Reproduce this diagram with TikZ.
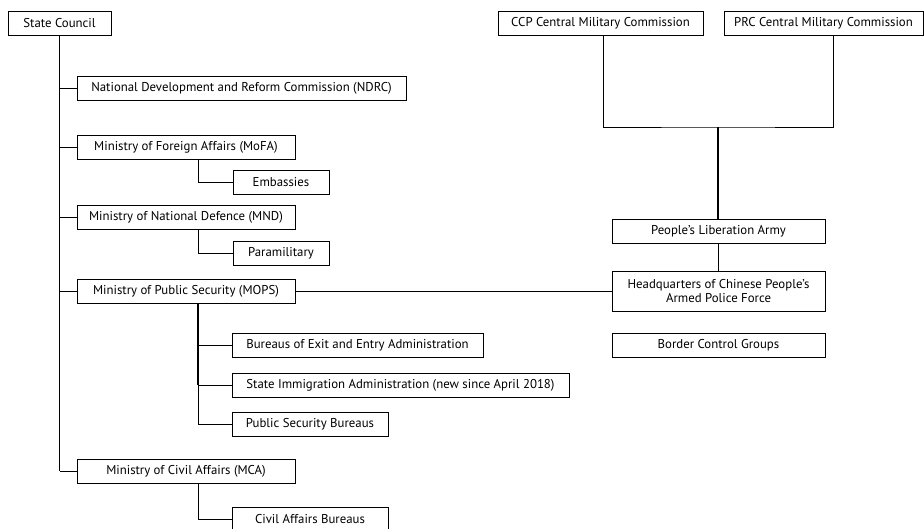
\documentclass[tikz,border=0pt]{standalone}
\usepackage{fontspec}
\setmainfont{PT Sans}
\usepackage{tikz}

\begin{document}
\begin{tikzpicture}[x=1pt,y=-1pt,
        box/.style={draw,rectangle,line width=0.8pt,minimum height=24pt,inner sep=0pt,font=\fontsize{12.8}{14}\selectfont,align=center},
        branch/.style={line width=0.6pt},
        spine/.style={line width=1.3pt}]

    \useasboundingbox (0,0) rectangle (924,528);

    % State Council side
    \node[box,minimum width=103pt] (sc) at (59.5,23) {State Council};
    \node[box,minimum width=329pt] (ndrc) at (241.5,88.5) {National Development and Reform Commission (NDRC)};
    \node[box,minimum width=218pt] (mofa) at (186,147) {Ministry of Foreign Affairs (MoFA)};
    \node[box,minimum width=96pt] (emb) at (281,182.5) {Embassies};
    \node[box,minimum width=218pt] (mnd) at (186,217) {Ministry of National Defence (MND)};
    \node[box,minimum width=96pt] (para) at (281,253.5) {Paramilitary};
    \node[box,minimum width=218pt] (mops) at (186,291) {Ministry of Public Security (MOPS)};
    \node[box,minimum width=251pt] (exit) at (357.5,345.5) {Bureaus of Exit and Entry Administration};
    \node[box,minimum width=337pt] (sia) at (400.5,385) {State Immigration Administration (new since April 2018)};
    \node[box,minimum width=156pt] (psb) at (310,424) {Public Security Bureaus};
    \node[box,minimum width=218pt] (mca) at (186,471) {Ministry of Civil Affairs (MCA)};
    \node[box,minimum width=156pt] (cab) at (310,519) {Civil Affairs Bureaus};

    % military side
    \node[box,minimum width=205pt] (ccp) at (600.5,23) {CCP Central Military Commission};
    \node[box,minimum width=199pt] (prc) at (823.5,23) {PRC Central Military Commission};
    \node[box,minimum width=213pt] (pla) at (718.5,231.5) {People’s Liberation Army};
    \node[box,minimum width=213pt,minimum height=40pt] (hq) at (718.5,291) {Headquarters of Chinese People’s\\Armed Police Force};
    \node[box,minimum width=213pt] (bcg) at (718.5,345) {Border Control Groups};
    \coordinate (cmc) at (718,127);

    \draw[spine] (sc.south) -- (sc.south |- mca.west);
    \foreach \m in {ndrc,mofa,mnd,mops,mca}
        \draw[branch] (sc.south |- \m.west) -- (\m.west);

    \draw[branch] ([xshift=12pt]mofa.south) |- (emb.west);
    \draw[branch] ([xshift=12pt]mnd.south) |- (para.west);
    \draw[spine] ([xshift=12pt]mops.south) -- ([xshift=12pt]mops.south |- sia.west);
    \foreach \b in {exit,sia,psb}
        \draw[branch] ([xshift=12pt]mops.south) |- (\b.west);
    \draw[branch] ([xshift=12pt]mca.south) |- (cab.west);

    \draw[branch] ([xshift=3pt]ccp.south) |- (cmc) -| ([xshift=9.5pt]prc.south);
    \draw[spine] (cmc) -- (pla.north -| cmc);
    \draw[branch] (pla) -- (hq);
    \draw[branch] (mops.east) -- (hq.west);
\end{tikzpicture}
\end{document}
